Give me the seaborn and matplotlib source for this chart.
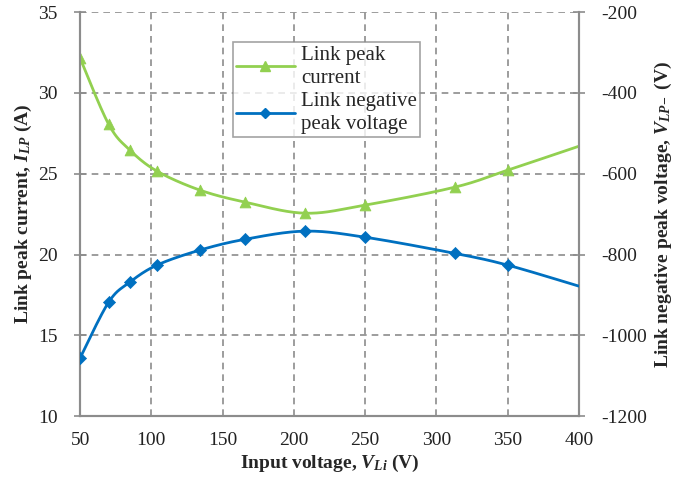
import numpy as np
import pandas as pd
import matplotlib
matplotlib.use("Agg")
import matplotlib.pyplot as plt
from matplotlib.lines import Line2D
import seaborn as sns

# Measured operating points
input_voltage = [50, 70, 85, 104, 134, 166, 208, 250, 313, 350, 400]
peak_current = [32.15, 28.07, 26.46, 25.16, 23.99, 23.24, 22.56, 23.06, 24.17, 25.22, 26.7]
neg_peak_voltage = [-1056, -918, -868, -826, -789, -762, -742, -757, -797, -826, -878]
# the final point (400 V) is drawn as line end only, without a marker
marker_count = 10

x_ticks = [50, 100, 150, 200, 250, 300, 350, 400]
left_ticks = [10, 15, 20, 25, 30, 35]
right_ticks = [-200, -400, -600, -800, -1000, -1200]

GREEN = "#92D050"
BLUE = "#0070C0"
GRID = "#8c8c8c"


def smooth(xs, ys, n=30):
    """Catmull-Rom style smoothing (as used by spreadsheet 'smoothed line' charts)."""
    xs = np.asarray(xs, float)
    ys = np.asarray(ys, float)
    px = np.concatenate([[xs[0]], xs, [xs[-1]]])
    py = np.concatenate([[ys[0]], ys, [ys[-1]]])
    ox, oy = [], []
    t = np.linspace(0, 1, n, endpoint=False)
    for i in range(1, len(px) - 2):
        p0x, p1x, p2x, p3x = px[i - 1:i + 3]
        p0y, p1y, p2y, p3y = py[i - 1:i + 3]
        c1x, c1y = p1x + (p2x - p0x) / 6, p1y + (p2y - p0y) / 6
        c2x, c2y = p2x - (p3x - p1x) / 6, p2y - (p3y - p1y) / 6
        bx = (1 - t) ** 3 * p1x + 3 * (1 - t) ** 2 * t * c1x + 3 * (1 - t) * t ** 2 * c2x + t ** 3 * p2x
        by = (1 - t) ** 3 * p1y + 3 * (1 - t) ** 2 * t * c1y + 3 * (1 - t) * t ** 2 * c2y + t ** 3 * p2y
        ox.extend(bx)
        oy.extend(by)
    ox.append(xs[-1])
    oy.append(ys[-1])
    return np.array(ox), np.array(oy)


sns.set_theme(style="white")
plt.rcParams["font.family"] = ["Liberation Serif", "DejaVu Serif"]
plt.rcParams["axes.unicode_minus"] = False
plt.rcParams["mathtext.fontset"] = "custom"
plt.rcParams["mathtext.rm"] = "Liberation Serif:bold"
plt.rcParams["mathtext.it"] = "Liberation Serif:italic:bold"
plt.rcParams["mathtext.bf"] = "Liberation Serif:bold"

fig = plt.figure(figsize=(6.73, 4.84), dpi=100)
ax = fig.add_axes([0.119, 0.140, 0.741, 0.835])
ax2 = ax.twinx()

cur = pd.DataFrame({"v": input_voltage, "i": peak_current})
vol = pd.DataFrame({"v": input_voltage, "u": neg_peak_voltage})

sx, sy = smooth(cur["v"], cur["i"])
sns.lineplot(x=sx, y=sy, ax=ax, color=GREEN, lw=2, sort=False, zorder=3)
sns.scatterplot(data=cur.iloc[:marker_count], x="v", y="i", ax=ax, marker="^",
                s=60, color=GREEN, edgecolor=GREEN, zorder=4)

vx, vy = smooth(vol["v"], vol["u"])
sns.lineplot(x=vx, y=vy, ax=ax2, color=BLUE, lw=2, sort=False, zorder=3)
sns.scatterplot(data=vol.iloc[:marker_count], x="v", y="u", ax=ax2, marker="D",
                s=38, color=BLUE, edgecolor=BLUE, zorder=4)

ax.set_xlim(50, 400)
ax.set_ylim(10, 35)
ax2.set_ylim(-1200, -200)
ax.set_xticks(x_ticks)
ax.set_yticks(left_ticks)
ax2.set_yticks(right_ticks)

ax.grid(True, axis="both", color=GRID, linestyle=(0, (4, 3)), lw=1.2)
ax.set_axisbelow(True)

for a in (ax, ax2):
    for side in ("left", "right", "bottom"):
        a.spines[side].set_color("#8c8c8c")
        a.spines[side].set_linewidth(1.5)
    a.spines["top"].set_visible(False)
    a.tick_params(axis="x", which="major", length=5, width=1.2, color="#8c8c8c",
                  labelsize=14, labelcolor="#222222", direction="out", pad=6)
    a.tick_params(axis="y", which="major", length=8, width=1.2, color="#8c8c8c",
                  labelsize=14, labelcolor="#222222", direction="inout", pad=12)

ax.set_xlabel(r"Input voltage, $V_{Li}$ (V)", fontsize=14, fontweight="bold", labelpad=3)
ax.set_ylabel(r"Link peak current, $I_{LP}$ (A)", fontsize=14, fontweight="bold", labelpad=3)
ax2.set_ylabel(r"Link negative peak voltage, $V_{LP\!-}$ (V)", fontsize=14,
               fontweight="bold", labelpad=4)

handles = [
    Line2D([], [], color=GREEN, lw=2, marker="^", markersize=7),
    Line2D([], [], color=BLUE, lw=2, marker="D", markersize=5),
]
leg = ax.legend(handles, ["Link peak\ncurrent", "Link negative\npeak voltage"],
                loc="upper left", bbox_to_anchor=(0.307, 0.925), fontsize=15,
                frameon=True, fancybox=False, handlelength=2.8, borderpad=0.15,
                labelspacing=0.2, handletextpad=0.3, borderaxespad=0)
for txt in leg.get_texts():
    txt.set_linespacing(1.3)
leg.get_frame().set_edgecolor("#8c8c8c")
leg.get_frame().set_linewidth(1.2)
leg.set_zorder(10)

fig.savefig("out.png", dpi=100)
